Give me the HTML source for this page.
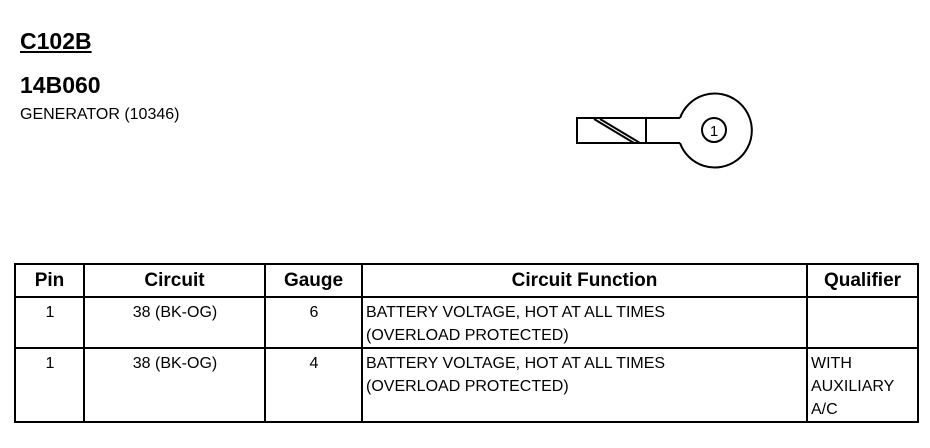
<!DOCTYPE html>
<html><head><style>
body{margin:0;width:930px;height:448px;background:#fff;font-family:"Liberation Sans",Arial,sans-serif;color:#000;position:relative;overflow:hidden}
.t{position:absolute;white-space:nowrap}
table{position:absolute;left:14px;top:263px;border-collapse:collapse;font-size:16px;table-layout:fixed;width:903px}
td{border:2px solid #000;vertical-align:top;padding:3px 2px 0 3px;line-height:23px;white-space:nowrap}
th{border:2px solid #000;font-size:19px;font-weight:bold;height:31px;padding:0}
.c{text-align:center}
</style></head><body>
<div class="t" style="left:20px;top:28px;font-size:23px;font-weight:bold;text-decoration:underline">C102B</div>
<div class="t" style="left:20px;top:72px;font-size:23px;font-weight:bold">14B060</div>
<div class="t" style="left:20px;top:106px;font-size:16px">GENERATOR (10346)</div>
<svg style="position:absolute;left:0;top:0" width="930" height="250">
<g fill="none" stroke="#000" stroke-width="2">
<path d="M680,118 L577,118 L577,143 L680,143"/>
<line x1="646" y1="118" x2="646" y2="143"/>
<line x1="594" y1="119" x2="634" y2="143"/>
<line x1="600" y1="119" x2="640" y2="143"/>
<path d="M680,118 A37,37 0 1 1 680,143"/>
<circle cx="714" cy="130" r="12"/>
</g>
<text x="714" y="136" font-size="15" text-anchor="middle" font-family="Liberation Sans">1</text>
</svg>
<table>
<colgroup><col style="width:69px"><col style="width:181px"><col style="width:97px"><col style="width:445px"><col style="width:111px"></colgroup>
<tr><th>Pin</th><th>Circuit</th><th>Gauge</th><th>Circuit Function</th><th>Qualifier</th></tr>
<tr style="height:50px"><td class="c">1</td><td class="c">38 (BK-OG)</td><td class="c">6</td><td>BATTERY VOLTAGE, HOT AT ALL TIMES<br>(OVERLOAD PROTECTED)</td><td></td></tr>
<tr style="height:74px"><td class="c">1</td><td class="c">38 (BK-OG)</td><td class="c">4</td><td>BATTERY VOLTAGE, HOT AT ALL TIMES<br>(OVERLOAD PROTECTED)</td><td>WITH<br>AUXILIARY<br>A/C</td></tr>
</table>
</body></html>
